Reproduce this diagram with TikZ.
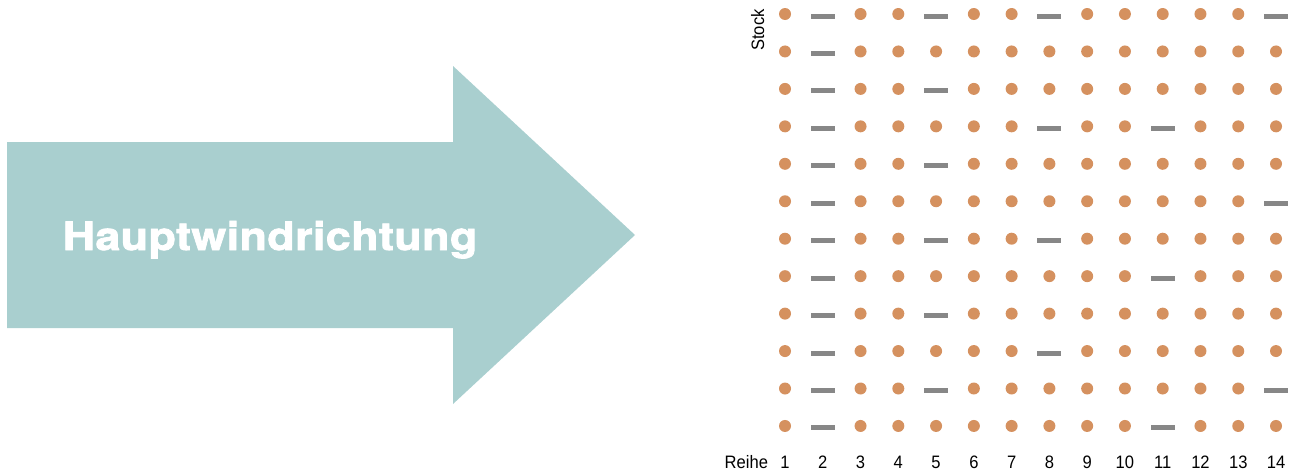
\documentclass[tikz,border=0pt]{standalone}
\usepackage{fontspec}
\setmainfont{Liberation Sans}
\newfontfamily\titlefont[FakeStretch=1.15,LetterSpace=1,FakeBold=2]{TeX Gyre Heros}
\newfontfamily\axisfont[FakeStretch=0.92]{Liberation Sans}
\usetikzlibrary{positioning}
\definecolor{windblue}{HTML}{A9CFCF}
\definecolor{plantorange}{HTML}{D5915F}
\definecolor{gapgray}{HTML}{878787}

\begin{document}
\begin{tikzpicture}
	[
	 x = 1pt,
	 y = -1pt,
	 every node/.style = {inner sep = 0pt,
		                  outer sep = 0pt},
	 plant/.style = {circle,
		             fill = plantorange,
		             minimum size = 12pt},
	 gap/.style   = {rectangle,
		             fill = gapgray,
		             minimum width = 24pt,
		             minimum height = 5pt,
		             yshift = -2pt},
	 title/.style = {text = white,
		             font = \titlefont\bfseries\fontsize{39}{39}\selectfont},
	 axis/.style  = {font = \axisfont\fontsize{18}{18}\selectfont}
	]
	
	\useasboundingbox (0,0) rectangle (1300,474);
	
	% wind arrow
	\fill[windblue] (7,142) -- (453,142) -- (453,66) -- (635,235)
	                -- (453,404) -- (453,328) -- (7,328) -- cycle;
	\node[title, anchor = base] (wind) at (270,250) {Hauptwindrichtung};
	
	% plants (0) and gaps (1), row by row
	\foreach \row/\pattern in {1/{0,1,0,0,1,0,0,1,0,0,0,0,0,1},
	                           2/{0,1,0,0,0,0,0,0,0,0,0,0,0,0},
	                           3/{0,1,0,0,1,0,0,0,0,0,0,0,0,0},
	                           4/{0,1,0,0,0,0,0,1,0,0,1,0,0,0},
	                           5/{0,1,0,0,1,0,0,0,0,0,0,0,0,0},
	                           6/{0,1,0,0,0,0,0,0,0,0,0,0,0,1},
	                           7/{0,1,0,0,1,0,0,1,0,0,0,0,0,0},
	                           8/{0,1,0,0,0,0,0,0,0,0,1,0,0,0},
	                           9/{0,1,0,0,1,0,0,0,0,0,0,0,0,0},
	                          10/{0,1,0,0,0,0,0,1,0,0,0,0,0,0},
	                          11/{0,1,0,0,1,0,0,0,0,0,0,0,0,1},
	                          12/{0,1,0,0,0,0,0,0,0,0,1,0,0,0}}
	{
	  \foreach \t [count = \col] in \pattern
	  {
	    \ifnum\t=1
	      \node[gap]   (p-\row-\col) at ({785+(\col-1)*37.77},{14+(\row-1)*37.45}) {};
	    \else
	      \node[plant] (p-\row-\col) at ({785+(\col-1)*37.77},{14+(\row-1)*37.45}) {};
	    \fi
	  }
	}
	
	% axis labels
	\node[axis, rotate = 90, anchor = base] (stock) at (764,30) {Stock};
	\node[axis, anchor = base east] (reihe) at (768,468) {Reihe};
	\foreach \col in {1,...,14}
	  \node[axis, anchor = base] (n-\col) at ({785+(\col-1)*37.77},468) {\col};
\end{tikzpicture}
\end{document}
